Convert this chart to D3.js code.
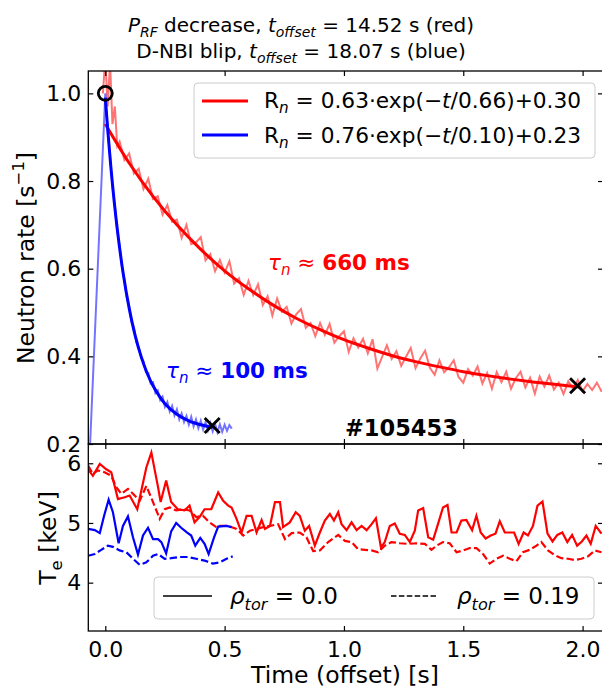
<!DOCTYPE html>
<html>
<head>
<meta charset="utf-8">
<script src="https://cdn.jsdelivr.net/npm/d3@7"></script>
<style>
body{margin:0;background:#fff}
text{font-family:"DejaVu Sans",sans-serif}
</style>
</head>
<body>
<svg id="display" width="602" height="688"></svg>
<script>
// neutron rate, raw signals (normalised)
const t_red_raw=[-0.01,0.00,0.01,0.02,0.03,0.04,0.05,
  0.06,0.08,0.10,0.12,0.14,0.16,0.18,0.20,0.22,0.24,
  0.26,0.28,0.30,0.32,0.34,0.36,0.38,0.40,0.42,0.44,
  0.46,0.48,0.50,0.52,0.54,0.56,0.58,0.60,0.62,0.64,
  0.66,0.68,0.70,0.72,0.74,0.76,0.78,0.80,0.82,0.84,
  0.86,0.88,0.90,0.92,0.94,0.96,0.98,1.00,1.02,1.04,
  1.06,1.08,1.10,1.12,1.14,1.16,1.18,1.20,1.22,1.24,
  1.26,1.28,1.30,1.32,1.34,1.36,1.38,1.40,1.42,1.44,
  1.46,1.48,1.50,1.52,1.54,1.56,1.58,1.60,1.62,1.64,
  1.66,1.68,1.70,1.72,1.74,1.76,1.78,1.80,1.82,1.84,
  1.86,1.88,1.90,1.92,1.94,1.96,1.98,2.00,2.02,2.04,
  2.06,2.08];
const n_red_raw=[1.00,1.08,0.97,1.07,0.93,0.97,0.88,
  .890,.848,.863,.817,.828,.782,.805,.759,.765,.723,
  .745,.707,.712,.670,.700,.656,.660,.672,.619,.633,
  .594,.620,.591,.617,.566,.578,.540,.572,.540,.564,
  .517,.537,.493,.532,.502,.513,.475,.496,.508,.465,
  .476,.446,.476,.449,.474,.431,.446,.457,.410,.441,
  .420,.440,.407,.439,.372,.399,.425,.394,.412,.378,
  .399,.419,.373,.395,.413,.374,.358,.391,.364,.375,
  .391,.353,.340,.371,.356,.377,.338,.362,.326,.364,
  .341,.365,.326,.350,.365,.329,.351,.315,.354,.331,
  .356,.324,.340,.314,.343,.326,.346,.320,.337,.323,
  .340,.319];
const t_blue_raw=[-0.07,0.00,0.01,0.02,0.03,0.04,0.05,0.06,0.07,0.08,0.09,0.10,
  0.11,0.12,0.13,0.14,0.15,0.16,0.17,0.18,0.19,0.20,
  0.21,0.22,0.23,0.24,0.25,0.26,0.27,0.28,0.29,0.30,
  0.31,0.32,0.33,0.34,0.35,0.36,0.37,0.38,0.39,0.40,
  0.41,0.42,0.43,0.44,0.45,0.46,0.47,0.48,0.49,0.50,
  0.51,0.52,0.53];
const n_blue_raw=[0.12,1.00,.915,.858,.788,.744,.686,.652,.603,.575,.535,.514,
  .478,.465,.432,.421,.396,.389,.364,.362,.338,.341,
  .316,.322,.300,.308,.285,.296,.274,.287,.265,.279,
  .256,.270,.250,.264,.244,.262,.240,.256,.236,.253,
  .233,.250,.231,.248,.229,.246,.227,.245,.228,.244,
  .230,.243,.235];

// fitted decays, values
const t_red_fit=[0.0,0.1,0.2,0.3,0.4,0.5,0.6,0.7,0.8,0.9,1.0,1.1,1.2,1.3,1.4,1.5,1.6,1.7,1.8,1.9,1.99];
const n_red_fit=[0.930,0.841,0.765,0.700,0.644,0.595,0.554,0.518,0.487,0.461,0.438,0.419,0.402,0.388,0.376,0.365,0.356,0.348,0.341,0.335,0.330];
const t_blue_fit=[0.0,0.025,0.05,0.075,0.1,0.125,0.15,0.175,0.2,0.25,0.3,0.35,0.4,0.45];
const n_blue_fit=[0.990,0.822,0.691,0.589,0.510,0.448,0.400,0.362,0.333,0.292,0.268,0.253,0.244,0.238];

// markers
const start_marker=[[0.0,1.0]];
const end_markers=[[0.448,0.242],[1.979,0.333]];

// electron temperature [keV]
const t_te_red_0=[-0.072,-0.052,-0.023,0.004,0.025,0.053,0.081,0.102,0.134,0.172,
  0.193,0.221,0.232,0.255,0.276,0.304,0.332,0.353,0.374,0.395,
  0.416,0.444,0.473,0.494,0.515,0.529,0.550,0.571,0.592,0.613,
  0.634,0.655,0.669,0.690,0.711,0.732,0.745,0.773,0.798,0.815,
  0.836,0.854,0.878,0.899,0.920,0.941,0.958,0.976,0.990,1.011,
  1.032,1.053,1.074,1.095,1.116,1.134,1.155,1.171,1.192,1.213,
  1.234,1.255,1.276,1.297,1.311,1.332,1.353,1.374,1.394,1.415,
  1.434,1.451,1.472,1.492,1.513,1.527,1.537,1.555,1.573,1.594,
  1.615,1.635,1.653,1.674,1.695,1.713,1.732,1.753,1.771,1.792,
  1.811,1.832,1.853,1.874,1.894,1.915,1.936,1.956,1.977,1.997,
  2.016,2.034,2.055,2.079];
const te_red_0=[5.90,5.79,5.99,5.90,5.85,5.40,5.43,5.46,5.23,5.93,
  6.18,5.60,5.35,5.71,5.35,5.23,5.21,5.29,5.01,5.10,
  5.23,5.23,5.51,5.37,5.29,5.26,5.07,4.84,5.12,5.12,
  4.84,5.05,4.90,4.95,5.35,5.35,4.93,5.01,5.18,5.12,
  4.87,4.95,4.62,4.84,5.04,5.15,5.04,5.18,4.98,4.88,
  5.01,4.88,4.95,4.88,4.98,5.08,4.59,4.68,4.95,4.99,
  4.82,4.80,4.68,4.87,5.21,5.25,4.76,4.72,4.98,5.26,
  5.30,4.84,4.84,5.04,5.05,4.95,4.88,5.12,4.84,4.74,
  4.79,4.82,5.03,4.84,4.84,4.84,4.65,4.84,4.79,4.95,
  5.29,5.36,4.82,4.69,4.80,4.84,4.68,4.80,4.62,4.69,
  4.79,4.65,4.95,4.82];
const t_te_red_19=[-0.072,-0.052,-0.031,-0.003,0.025,0.046,0.067,0.095,0.116,0.144,
  0.172,0.200,0.228,0.249,0.270,0.297,0.325,0.353,0.381,0.409,
  0.437,0.465,0.480,0.515,0.550,0.578,0.606,0.634,0.662,0.690,
  0.724,0.753,0.781,0.815,0.843,0.871,0.899,0.934,0.976,1.004,
  1.032,1.059,1.088,1.116,1.143,1.171,1.199,1.234,1.269,1.304,
  1.339,1.367,1.388,1.415,1.443,1.472,1.499,1.527,1.555,1.583,
  1.611,1.639,1.667,1.695,1.723,1.750,1.778,1.807,1.827,1.855,
  1.883,1.911,1.939,1.967,1.995,2.023,2.051,2.079];
const te_red_19=[5.96,5.82,5.88,5.85,5.79,5.60,5.49,5.57,5.49,5.37,
  5.62,5.35,5.07,5.23,5.26,5.21,5.23,5.21,5.10,5.12,
  5.01,4.93,4.95,4.95,4.90,4.79,4.87,4.90,4.93,4.95,
  4.98,4.73,4.83,4.84,4.76,4.53,4.54,4.68,4.80,4.70,
  4.68,4.56,4.55,4.54,4.51,4.62,4.68,4.66,4.65,4.66,
  4.65,4.55,4.62,4.68,4.66,4.51,4.54,4.58,4.58,4.48,
  4.32,4.40,4.45,4.40,4.36,4.51,4.55,4.62,4.68,4.54,
  4.46,4.41,4.40,4.38,4.40,4.44,4.54,4.51];
const t_te_blue_0=[-0.072,-0.044,-0.023,-0.005,0.014,0.032,0.056,0.074,0.095,0.116,
  0.137,0.158,0.179,0.200,0.221,0.235,0.255,0.276,0.297,0.318,
  0.343,0.360,0.377,0.398,0.416,0.433,0.455,0.473,0.508,0.529];
const te_blue_0=[4.90,4.88,4.83,5.12,5.39,5.18,4.66,4.95,5.11,4.76,
  4.47,4.79,4.92,4.73,4.73,4.68,4.49,4.86,5.00,4.92,
  4.84,4.79,4.62,4.75,4.65,4.48,4.75,4.94,4.95,4.93];
const t_te_blue_19=[-0.072,-0.044,-0.017,0.011,0.032,0.060,0.088,0.116,0.144,0.172,
  0.200,0.221,0.249,0.276,0.312,0.346,0.381,0.416,0.451,0.480,0.508,0.534];
const te_blue_19=[4.45,4.48,4.55,4.62,4.60,4.54,4.51,4.40,4.30,4.34,
  4.45,4.48,4.40,4.41,4.43,4.43,4.40,4.37,4.32,4.34,4.40,4.44];

// ticks
const x_ticks=[0.0,0.5,1.0,1.5,2.0];
const rate_ticks=[0.2,0.4,0.6,0.8,1.0];
const te_ticks=[4,5,6];

const display=d3.select("#display");
const left=88.3, right=603;
const top_y0=71, top_y1=444, bot_y0=444, bot_y1=631;

const x=d3.scaleLinear().domain([-0.0712,2.0855]).range([left,right]);
const y_rate=d3.scaleLinear().domain([0.2,1.051]).range([top_y1,top_y0]);
const y_te=d3.scaleLinear().domain([3.19,6.323]).range([bot_y1,bot_y0]);

const zip=(a,b)=>a.map((d,i)=>[d,b[i]]);

// clip paths
const defs=display.append("defs");
defs.append("clipPath").attr("id","clip_top").append("rect")
  .attr("x",left).attr("y",top_y0).attr("width",right-left).attr("height",top_y1-top_y0);
defs.append("clipPath").attr("id","clip_bot").append("rect")
  .attr("x",left).attr("y",bot_y0).attr("width",right-left).attr("height",bot_y1-bot_y0);

// rich text helper (sub/superscripts, italics)
function rich(g,px,py,parts,size,anchor){
  const t=g.append("text").attr("x",px).attr("y",py)
    .style("font-size",size+"px").attr("text-anchor",anchor||"start");
  let shift=0;
  for (const p of parts){
    const s=t.append("tspan").text(p.s);
    const target=p.sub?size*0.25:(p.sup?-size*0.42:0);
    if (target-shift!==0) s.attr("dy",target-shift);
    shift=target;
    if (p.sub||p.sup) s.style("font-size",(size*0.7)+"px");
    if (p.it) s.style("font-style","italic");
    if (p.b) s.style("font-weight","bold");
  }
  return t;
}

// ---------- top panel ----------
const top_panel=display.append("g");
const data_top=top_panel.append("g").attr("clip-path","url(#clip_top)");
const line_rate=d3.line().x(d=>x(d[0])).y(d=>y_rate(d[1]));
const curve_rate=d3.line().x(d=>x(d[0])).y(d=>y_rate(d[1])).curve(d3.curveCatmullRom);

data_top.append("path").datum(zip(t_red_raw,n_red_raw)).attr("d",line_rate)
  .attr("fill","none").attr("stroke","red").attr("stroke-opacity",0.55).attr("stroke-width",2);
data_top.append("path").datum(zip(t_blue_raw,n_blue_raw)).attr("d",line_rate)
  .attr("fill","none").attr("stroke","blue").attr("stroke-opacity",0.55).attr("stroke-width",2);
data_top.append("path").datum(zip(t_red_fit,n_red_fit)).attr("d",curve_rate)
  .attr("fill","none").attr("stroke","red").attr("stroke-width",3);
data_top.append("path").datum(zip(t_blue_fit,n_blue_fit)).attr("d",curve_rate)
  .attr("fill","none").attr("stroke","blue").attr("stroke-width",3);

data_top.selectAll(".omark").data(start_marker).join("circle")
  .attr("cx",d=>x(d[0])).attr("cy",d=>y_rate(d[1])).attr("r",7)
  .attr("fill","none").attr("stroke","black").attr("stroke-width",2.8);
for (const d of end_markers){
  const cx=x(d[0]), cy=y_rate(d[1]), s=7.5;
  data_top.append("path")
    .attr("d","M"+(cx-s)+","+(cy-s)+"L"+(cx+s)+","+(cy+s)+"M"+(cx-s)+","+(cy+s)+"L"+(cx+s)+","+(cy-s))
    .attr("stroke","black").attr("stroke-width",2.8);
}

// axes, all ticks pointing inward
function inward_axes(g,yscale,y0,y1,yticks,ylabels){
  g.append("g").attr("transform","translate(0,"+y1+")")
    .call(d3.axisBottom(x).tickValues(x_ticks).tickSizeInner(-5).tickSizeOuter(0).tickFormat(""));
  g.append("g").attr("transform","translate(0,"+y0+")")
    .call(d3.axisTop(x).tickValues(x_ticks).tickSizeInner(-5).tickSizeOuter(0).tickFormat(""));
  g.append("g").attr("transform","translate("+left+",0)")
    .call(d3.axisLeft(yscale).tickValues(yticks).tickSizeInner(-5).tickSizeOuter(0).tickPadding(7).tickFormat(ylabels));
  g.append("g").attr("transform","translate("+right+",0)")
    .call(d3.axisRight(yscale).tickValues(yticks).tickSizeInner(-5).tickSizeOuter(0).tickFormat(""));
  g.selectAll(".domain").remove();
  g.selectAll(".tick line").attr("stroke","black").attr("stroke-width",1.2);
  g.selectAll(".tick text").style("font-size","22px").style("font-family","DejaVu Sans").attr("fill","black");
  g.append("rect").attr("x",left).attr("y",y0).attr("width",right-left).attr("height",y1-y0)
    .attr("fill","none").attr("stroke","black").attr("stroke-width",1.3);
}
inward_axes(top_panel,y_rate,top_y0,top_y1,rate_ticks,d3.format(".1f"));

// legend top
const leg=top_panel.append("g");
leg.append("rect").attr("x",194).attr("y",83).attr("width",401).attr("height",75).attr("rx",4)
  .attr("fill","white").attr("fill-opacity",0.85).attr("stroke","#cccccc").attr("stroke-width",1);
leg.append("line").attr("x1",202).attr("x2",248).attr("y1",101).attr("y2",101).attr("stroke","red").attr("stroke-width",3);
leg.append("line").attr("x1",202).attr("x2",248).attr("y1",135).attr("y2",135).attr("stroke","blue").attr("stroke-width",3);
rich(leg,264,108,[{s:"R"},{s:"n",sub:true,it:true},{s:" = 0.63·exp(−"},{s:"t",it:true},{s:"/0.66)+0.30"}],21.7);
rich(leg,264,143,[{s:"R"},{s:"n",sub:true,it:true},{s:" = 0.76·exp(−"},{s:"t",it:true},{s:"/0.10)+0.23"}],21.7);

// annotations
rich(top_panel,268,270,[{s:"τ",it:true},{s:"n",sub:true,it:true},{s:" ≈  "},{s:"660 ms",b:true}],21.5).attr("fill","red");
rich(top_panel,166,378,[{s:"τ",it:true},{s:"n",sub:true,it:true},{s:" ≈  "},{s:"100 ms",b:true}],21.5).attr("fill","blue");
top_panel.append("text").attr("x",345).attr("y",436).style("font-size","22.5px").style("font-weight","bold").text("#105453");

// y label top
rich(top_panel,0,0,[{s:"Neutron rate [s"},{s:"−1",sup:true},{s:"]"}],23.5,"middle")
  .attr("transform","translate(34,258) rotate(-90)");

// ---------- bottom panel ----------
const bot_panel=display.append("g");
const data_bot=bot_panel.append("g").attr("clip-path","url(#clip_bot)");
const line_te=d3.line().x(d=>x(d[0])).y(d=>y_te(d[1]));
const te_series=[
  [t_te_red_0,te_red_0,"red",null],
  [t_te_red_19,te_red_19,"red","7.4,3.2"],
  [t_te_blue_0,te_blue_0,"blue",null],
  [t_te_blue_19,te_blue_19,"blue","7.4,3.2"]
];
for (const s of te_series){
  data_bot.append("path").datum(zip(s[0],s[1])).attr("d",line_te)
    .attr("fill","none").attr("stroke",s[2]).attr("stroke-width",2.2)
    .attr("stroke-dasharray",s[3]);
}
inward_axes(bot_panel,y_te,bot_y0,bot_y1,te_ticks,d3.format("d"));

// x tick labels
bot_panel.append("g").attr("transform","translate(0,"+bot_y1+")")
  .call(d3.axisBottom(x).tickValues(x_ticks).tickSize(0).tickPadding(10).tickFormat(d3.format(".1f")))
  .call(g=>g.select(".domain").remove())
  .selectAll("text").style("font-size","22px").style("font-family","DejaVu Sans").attr("fill","black");

// legend bottom
const leg2=bot_panel.append("g");
leg2.append("rect").attr("x",154).attr("y",577).attr("width",440).attr("height",42).attr("rx",4)
  .attr("fill","white").attr("fill-opacity",0.85).attr("stroke","#cccccc").attr("stroke-width",1);
leg2.append("line").attr("x1",163).attr("x2",212).attr("y1",596).attr("y2",596).attr("stroke","black").attr("stroke-width",1.5);
leg2.append("line").attr("x1",391).attr("x2",437).attr("y1",596).attr("y2",596).attr("stroke","black").attr("stroke-width",1.5)
  .attr("stroke-dasharray","5.5,2.4");
rich(leg2,230,604,[{s:"ρ",it:true},{s:"tor",sub:true,it:true},{s:" = 0.0"}],23);
rich(leg2,457,604,[{s:"ρ",it:true},{s:"tor",sub:true,it:true},{s:" = 0.19"}],23);

// y label bottom
rich(bot_panel,0,0,[{s:"T"},{s:"e",sub:true},{s:" [keV]"}],23.5,"middle")
  .attr("transform","translate(56,538) rotate(-90)");

// x label
display.append("text").attr("x",345).attr("y",683).attr("text-anchor","middle")
  .style("font-size","23.5px").text("Time (offset) [s]");

// title
rich(display,301,32,[{s:"P",it:true},{s:"RF",sub:true,it:true},{s:" decrease, "},{s:"t",it:true},{s:"offset",sub:true,it:true},{s:" = 14.52 s (red)"}],20,"middle");
rich(display,301,58,[{s:"D-NBI blip, "},{s:"t",it:true},{s:"offset",sub:true,it:true},{s:" = 18.07 s (blue)"}],20,"middle");
</script>
</body>
</html>
